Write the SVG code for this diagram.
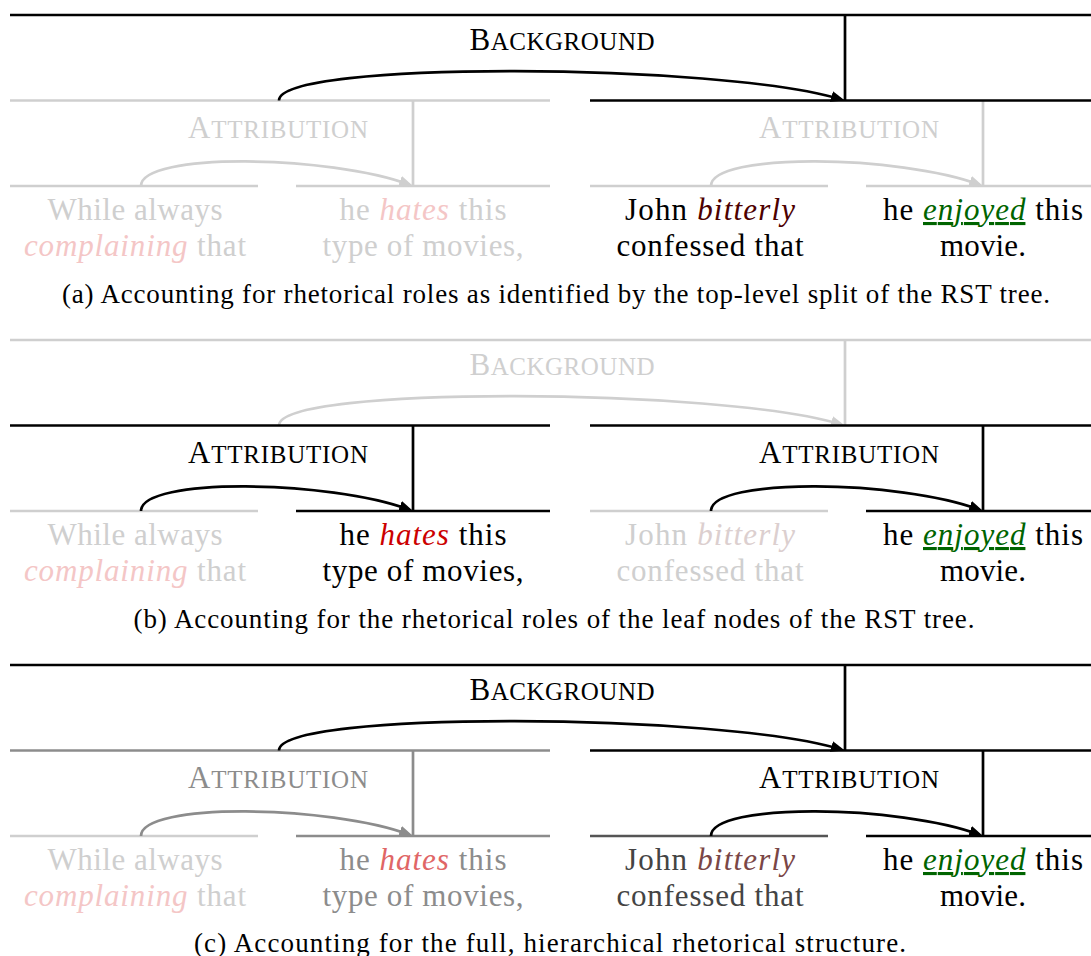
<svg xmlns="http://www.w3.org/2000/svg" width="1091" height="956" viewBox="0 0 1091 956">
<style>
  .ln{fill:none;stroke-width:2.7}
  .k{stroke:#000}.l{stroke:#cfcfcf}.m{stroke:#8c8c8c}.d{stroke:#555}
  text{font-family:"Liberation Serif","Times New Roman",serif}
  .leaf{font-size:31px;text-anchor:middle}
  .rel{text-anchor:middle}
  .big{font-size:31px}.sm{font-size:25px}
  .cap{font-size:27px;text-anchor:middle;fill:#000}
  .i{font-style:italic}
  .fk{fill:#000}.fl{fill:#cfcfcf}.fm{fill:#8c8c8c}.fd{fill:#444}
  .ul{text-decoration:underline}
  .green{fill:#006400}
</style>
<defs>
  <marker id="ak" markerUnits="userSpaceOnUse" markerWidth="16" markerHeight="12" refX="10" refY="5.5" orient="auto"><path d="M0,0 L14,5.5 L0,11 Z" fill="#000"/></marker>
  <marker id="al" markerUnits="userSpaceOnUse" markerWidth="16" markerHeight="12" refX="10" refY="5.5" orient="auto"><path d="M0,0 L14,5.5 L0,11 Z" fill="#cfcfcf"/></marker>
  <marker id="am" markerUnits="userSpaceOnUse" markerWidth="16" markerHeight="12" refX="10" refY="5.5" orient="auto"><path d="M0,0 L14,5.5 L0,11 Z" fill="#8c8c8c"/></marker>
</defs>

<!-- (a) top-level split -->
<g id="panel-a">
  <g id="a-attr-left">
    <line class="ln l" x1="10" y1="100.5" x2="550" y2="100.5"/>
    <line class="ln l" x1="413" y1="100.5" x2="413" y2="186"/>
    <text class="rel fl" x="278" y="138" textLength="180"><tspan class="big">A</tspan><tspan class="sm">TTRIBUTION</tspan></text>
  </g>
  <g id="a-attr-right">
    <line class="ln l" x1="983" y1="100.5" x2="983" y2="186"/>
    <line class="ln k" x1="590" y1="100.5" x2="1091" y2="100.5"/>
    <text class="rel fl" x="849" y="138" textLength="180"><tspan class="big">A</tspan><tspan class="sm">TTRIBUTION</tspan></text>
  </g>
  <g id="a-background">
    <line class="ln k" x1="10" y1="15" x2="1091" y2="15"/>
    <line class="ln k" x1="845" y1="15" x2="845" y2="100.5"/>
    <text class="rel fk" x="562" y="50" textLength="185"><tspan class="big">B</tspan><tspan class="sm">ACKGROUND</tspan></text>
  </g>
  <g id="a-leaf-1">
    <line class="ln l" x1="10" y1="186" x2="258" y2="186"/>
    <text class="leaf fl" x="135" y="220" textLength="175">While always</text>
    <text class="leaf fl" x="135" y="256" textLength="222"><tspan class="i" fill="#f4c6c6">complaining</tspan> that</text>
  </g>
  <g id="a-leaf-2">
    <line class="ln l" x1="296" y1="186" x2="550" y2="186"/>
    <text class="leaf fl" x="423" y="220" textLength="167">he <tspan class="i" fill="#f4c6c6">hates</tspan> this</text>
    <text class="leaf fl" x="423" y="256" textLength="201">type of movies,</text>
  </g>
  <g id="a-leaf-3">
    <line class="ln l" x1="590" y1="186" x2="828" y2="186"/>
    <text class="leaf fk" x="710" y="220" textLength="170">John <tspan class="i" fill="#4d0000">bitterly</tspan></text>
    <text class="leaf fk" x="710" y="256" textLength="187">confessed that</text>
  </g>
  <g id="a-leaf-4">
    <line class="ln l" x1="866" y1="186" x2="1091" y2="186"/>
    <text class="leaf fk" x="983" y="220" textLength="200">he <tspan class="i ul green">enjoyed</tspan> this</text>
    <text class="leaf fk" x="983" y="256" textLength="86">movie.</text>
  </g>
  <g id="a-connectors">
    <path class="ln l" d="M141,186 C141,152 330,155 409.3,184.6" marker-end="url(#al)"/>
    <path class="ln l" d="M711,186 C711,152 900,155 979.3,184.6" marker-end="url(#al)"/>
    <path class="ln k" d="M279,100.5 C279,60 720,63 841,99.3" marker-end="url(#ak)"/>
  </g>
  <text id="a-caption" class="cap" x="556" y="303" textLength="988">(a) Accounting for rhetorical roles as identified by the top-level split of the RST tree.</text>
</g>

<!-- (b) leaf roles -->
<g id="panel-b" transform="translate(0,325)">
  <g id="b-background">
    <line class="ln l" x1="10" y1="15" x2="1091" y2="15"/>
    <line class="ln l" x1="845" y1="15" x2="845" y2="100.5"/>
    <text class="rel fl" x="562" y="50" textLength="185"><tspan class="big">B</tspan><tspan class="sm">ACKGROUND</tspan></text>
  </g>
  <g id="b-connector-top">
    <path class="ln l" d="M279,100.5 C279,60 720,63 841,99.3" marker-end="url(#al)"/>
  </g>
  <g id="b-attr-left">
    <line class="ln k" x1="10" y1="100.5" x2="550" y2="100.5"/>
    <line class="ln k" x1="413" y1="100.5" x2="413" y2="186"/>
    <text class="rel fk" x="278" y="138" textLength="180"><tspan class="big">A</tspan><tspan class="sm">TTRIBUTION</tspan></text>
  </g>
  <g id="b-attr-right">
    <line class="ln k" x1="590" y1="100.5" x2="1091" y2="100.5"/>
    <line class="ln k" x1="983" y1="100.5" x2="983" y2="186"/>
    <text class="rel fk" x="849" y="138" textLength="180"><tspan class="big">A</tspan><tspan class="sm">TTRIBUTION</tspan></text>
  </g>
  <g id="b-leaf-1">
    <line class="ln l" x1="10" y1="186" x2="258" y2="186"/>
    <text class="leaf fl" x="135" y="220" textLength="175">While always</text>
    <text class="leaf fl" x="135" y="256" textLength="222"><tspan class="i" fill="#f4c6c6">complaining</tspan> that</text>
  </g>
  <g id="b-leaf-3">
    <line class="ln l" x1="590" y1="186" x2="828" y2="186"/>
    <text class="leaf fl" x="710" y="220" textLength="170">John <tspan class="i" fill="#dccfcf">bitterly</tspan></text>
    <text class="leaf fl" x="710" y="256" textLength="187">confessed that</text>
  </g>
  <g id="b-leaf-2">
    <line class="ln k" x1="296" y1="186" x2="550" y2="186"/>
    <text class="leaf fk" x="423" y="220" textLength="167">he <tspan class="i" fill="#cc0000">hates</tspan> this</text>
    <text class="leaf fk" x="423" y="256" textLength="201">type of movies,</text>
  </g>
  <g id="b-leaf-4">
    <line class="ln k" x1="866" y1="186" x2="1091" y2="186"/>
    <text class="leaf fk" x="983" y="220" textLength="200">he <tspan class="i ul green">enjoyed</tspan> this</text>
    <text class="leaf fk" x="983" y="256" textLength="86">movie.</text>
  </g>
  <g id="b-connectors">
    <path class="ln k" d="M141,186 C141,152 330,155 409.3,184.6" marker-end="url(#ak)"/>
    <path class="ln k" d="M711,186 C711,152 900,155 979.3,184.6" marker-end="url(#ak)"/>
  </g>
  <text id="b-caption" class="cap" x="554" y="303" textLength="841">(b) Accounting for the rhetorical roles of the leaf nodes of the RST tree.</text>
</g>

<!-- (c) full hierarchy -->
<g id="panel-c" transform="translate(0,650)">
  <g id="c-attr-left">
    <line class="ln m" x1="10" y1="100.5" x2="550" y2="100.5"/>
    <line class="ln m" x1="413" y1="100.5" x2="413" y2="186"/>
    <text class="rel fm" x="278" y="138" textLength="180"><tspan class="big">A</tspan><tspan class="sm">TTRIBUTION</tspan></text>
  </g>
  <g id="c-attr-right">
    <line class="ln k" x1="590" y1="100.5" x2="1091" y2="100.5"/>
    <line class="ln k" x1="983" y1="100.5" x2="983" y2="186"/>
    <text class="rel fk" x="849" y="138" textLength="180"><tspan class="big">A</tspan><tspan class="sm">TTRIBUTION</tspan></text>
  </g>
  <g id="c-background">
    <line class="ln k" x1="10" y1="15" x2="1091" y2="15"/>
    <line class="ln k" x1="845" y1="15" x2="845" y2="100.5"/>
    <text class="rel fk" x="562" y="50" textLength="185"><tspan class="big">B</tspan><tspan class="sm">ACKGROUND</tspan></text>
  </g>
  <g id="c-leaf-1">
    <line class="ln l" x1="10" y1="186" x2="258" y2="186"/>
    <text class="leaf fl" x="135" y="220" textLength="175">While always</text>
    <text class="leaf fl" x="135" y="256" textLength="222"><tspan class="i" fill="#f4c6c6">complaining</tspan> that</text>
  </g>
  <g id="c-leaf-2">
    <line class="ln m" x1="296" y1="186" x2="550" y2="186"/>
    <text class="leaf fm" x="423" y="220" textLength="167">he <tspan class="i" fill="#e06666">hates</tspan> this</text>
    <text class="leaf fm" x="423" y="256" textLength="201">type of movies,</text>
  </g>
  <g id="c-leaf-3">
    <line class="ln d" x1="590" y1="186" x2="828" y2="186"/>
    <text class="leaf fd" x="710" y="220" textLength="170">John <tspan class="i" fill="#7a4646">bitterly</tspan></text>
    <text class="leaf fd" x="710" y="256" textLength="187">confessed that</text>
  </g>
  <g id="c-leaf-4">
    <line class="ln k" x1="866" y1="186" x2="1091" y2="186"/>
    <text class="leaf fk" x="983" y="220" textLength="200">he <tspan class="i ul green">enjoyed</tspan> this</text>
    <text class="leaf fk" x="983" y="256" textLength="86">movie.</text>
  </g>
  <g id="c-connectors">
    <path class="ln m" d="M141,186 C141,152 330,155 409.3,184.6" marker-end="url(#am)"/>
    <path class="ln k" d="M711,186 C711,152 900,155 979.3,184.6" marker-end="url(#ak)"/>
    <path class="ln k" d="M279,100.5 C279,60 720,63 841,99.3" marker-end="url(#ak)"/>
  </g>
  <text id="c-caption" class="cap" x="550" y="302" textLength="712">(c) Accounting for the full, hierarchical rhetorical structure.</text>
</g>
</svg>
